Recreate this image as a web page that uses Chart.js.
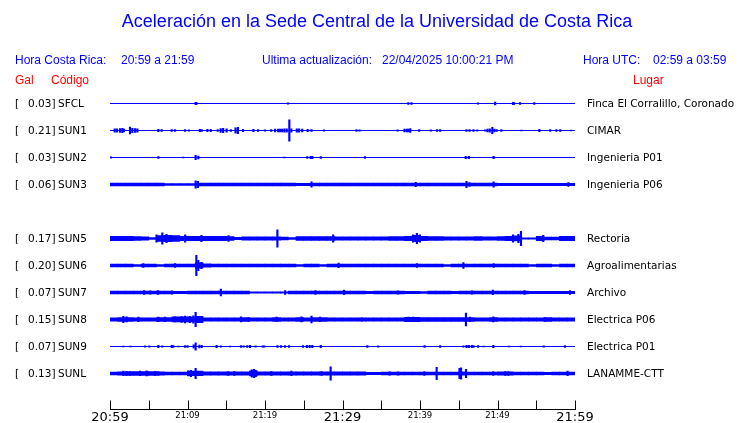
<!DOCTYPE html>
<html>
<head>
<meta charset="utf-8">
<title>Aceleración en la Sede Central de la Universidad de Costa Rica</title>
<script src="https://cdn.jsdelivr.net/npm/chart.js@4.4.1/dist/chart.umd.min.js"></script>
<style>
  body { margin: 0; background: #fff; }
  #wrap { width: 740px; height: 423px; position: relative; }
</style>
</head>
<body>
<div id="wrap"><canvas id="sismo"></canvas></div>
<script>
// TEXTOS DE LA CABECERA
var titulo = 'Aceleración en la Sede Central de la Universidad de Costa Rica'
var horaCR = '20:59 a 21:59'
var actualizacion = '22/04/2025 10:00:21 PM'
var horaUTC = '02:59 a 03:59'

// ESTACIONES (SUN4 no viene en el registro)
var estaciones = ['SFCL', 'SUN1', 'SUN2', 'SUN3', 'SUN5', 'SUN6', 'SUN7', 'SUN8', 'SUN9', 'SUNL']
var lugares = ['Finca El Corralillo, Coronado', 'CIMAR', 'Ingenieria P01', 'Ingenieria P06', 'Rectoria',
  'Agroalimentarias', 'Archivo', 'Electrica P06', 'Electrica P01', 'LANAMME-CTT']
var maxGal = [0.03, 0.21, 0.03, 0.06, 0.17, 0.20, 0.07, 0.15, 0.07, 0.13]

// EJE DE TIEMPO (minutos desde las 20:59)
var minutosTick = [0, 5, 10, 15, 20, 25, 30, 35, 40, 45, 50, 55, 60]
var etiquetasTick = ['20:59', '', '21:09', '', '21:19', '', '21:29', '', '21:39', '', '21:49', '', '21:59']
var ticksGrandes = ['20:59', '21:29', '21:59']

// ruido de fondo: amplitud (gal) por minuto, null = solo la linea
var fondoSUN3 = [0.03, 0.03, 0.03, 0.03, 0.03, 0.03, 0.03, 0.02, 0.02, 0.02, 0.02, 0.03, 0.03, 0.03, 0.03, 0.03, 0.03, 0.03, 0.03, 0.03,
  0.03, 0.03, 0.03, 0.03, 0.024, 0.024, 0.026, 0.026, 0.026, 0.026, 0.026, 0.026, 0.026, 0.03, 0.03, 0.03, 0.03, 0.03, 0.03, 0.026,
  0.026, 0.026, 0.026, 0.026, 0.026, 0.026, 0.026, 0.026, 0.026, 0.026, 0.022, 0.022, 0.022, 0.022, 0.022, 0.022, 0.022, 0.022, 0.022, 0.022]
var fondoSUN5 = [0.045, 0.045, 0.045, 0.04, 0.035, 0.02, 0.055, 0.06, 0.055, 0.045, 0.045, 0.045, 0.045, 0.045, 0.045, 0.04, 0.025, 0.033, 0.033, 0.033,
  0.033, 0.035, 0.03, 0.02, 0.036, 0.036, 0.036, 0.036, 0.04, 0.034, 0.034, 0.034, 0.034, 0.034, 0.034, 0.034, 0.036, 0.036, 0.045, 0.06,
  0.045, 0.04, 0.036, 0.034, 0.034, 0.034, 0.034, 0.036, 0.034, 0.032, 0.036, 0.045, 0.05, 0.015, 0.015, 0.045, 0.03, 0.03, 0.045, 0.045]
var fondoSUN6 = [0.028, 0.028, 0.028, 0.02, 0.028, 0.028, 0.02, 0.028, 0.028, 0.028, 0.028, 0.05, 0.035, 0.028, 0.028, 0.028, 0.028, 0.028, 0.028, 0.028,
  0.028, 0.028, 0.028, 0.028, 0.02, 0.028, 0.028, 0.02, 0.028, 0.028, 0.028, 0.028, 0.028, 0.028, 0.028, 0.028, 0.028, 0.028, 0.028, 0.028,
  0.028, 0.028, 0.028, 0.02, 0.028, 0.028, 0.028, 0.028, 0.028, 0.028, 0.028, 0.028, 0.028, 0.028, 0.02, 0.028, 0.028, 0.02, 0.03, 0.03]
var fondoSUN7 = [0.027, 0.027, 0.027, 0.027, 0.027, 0.03, 0.03, 0.027, 0.024, 0.024, 0.027, 0.027, 0.027, 0.027, 0.027, 0.027, 0.027, 0.027, 0.012, 0.012,
  0.012, 0.012, 0.015, 0.027, 0.027, 0.027, 0.027, 0.027, 0.027, 0.027, 0.027, 0.027, 0.027, 0.022, 0.027, 0.027, 0.027, 0.027, 0.025, 0.025,
  0.02, 0.027, 0.027, 0.027, 0.025, 0.027, 0.027, 0.027, 0.027, 0.027, 0.027, 0.027, 0.027, 0.027, 0.025, 0.025, 0.025, 0.025, 0.025, 0.025]
var fondoSUN8 = [0.035, 0.04, 0.036, 0.035, 0.035, 0.035, 0.04, 0.04, 0.05, 0.05, 0.05, 0.06, 0.035, 0.035, 0.035, 0.035, 0.035, 0.036, 0.035, 0.035,
  0.035, 0.036, 0.035, 0.035, 0.036, 0.035, 0.04, 0.036, 0.035, 0.035, 0.035, 0.035, 0.035, 0.035, 0.035, 0.035, 0.035, 0.035, 0.042, 0.042,
  0.036, 0.036, 0.036, 0.036, 0.036, 0.036, 0.038, 0.035, 0.035, 0.036, 0.035, 0.035, 0.035, 0.035, 0.035, 0.035, 0.036, 0.035, 0.035, 0.035]
var fondoSUNL = [0.03, 0.033, 0.036, 0.036, 0.036, 0.036, 0.033, 0.03, 0.03, 0.03, 0.045, 0.045, 0.033, 0.033, 0.033, 0.033, 0.033, 0.033, 0.05, 0.033,
  0.033, 0.033, 0.033, 0.035, 0.033, 0.033, 0.033, 0.033, 0.035, 0.033, 0.033, 0.033, 0.033, 0.022, 0.022, 0.03, 0.03, 0.03, 0.03, 0.03,
  0.03, 0.03, 0.03, 0.03, 0.03, 0.035, 0.03, 0.03, 0.03, 0.03, 0.035, 0.035, 0.03, 0.03, 0.03, 0.03, 0.022, 0.03, 0.03, 0.03]
var fondos = [null, null, null, fondoSUN3, fondoSUN5, fondoSUN6, fondoSUN7, fondoSUN8, null, fondoSUNL]

// picos: [minuto, amplitud en gal]
var picosSFCL = [[11.05, 0.025], [11.15, 0.025], [22.97, 0.015], [38.5, 0.02], [38.9, 0.02], [47.5, 0.015], [49.7, 0.03],
  [52.0, 0.025], [52.1, 0.025], [52.9, 0.02], [54.75, 0.02]]
var picosSUN1 = [[0.6, 0.035], [0.9, 0.035], [1.3, 0.04], [1.6, 0.045], [1.8, 0.03], [2.58, 0.065], [2.88, 0.045], [3.23, 0.04],
  [3.53, 0.035], [6.24, 0.025], [6.67, 0.02], [7.96, 0.02], [8.39, 0.02], [9.68, 0.02], [10.19, 0.015], [11.6, 0.025], [11.83, 0.02],
  [12.56, 0.025], [13.0, 0.025], [13.9, 0.02], [14.28, 0.04], [14.6, 0.045], [15.05, 0.035], [15.6, 0.02], [16.2, 0.05], [16.5, 0.06],
  [17.16, 0.025], [18.5, 0.025], [19.1, 0.02], [20.0, 0.015], [20.8, 0.02], [21.3, 0.03], [21.7, 0.03], [21.95, 0.03], [22.2, 0.03],
  [22.5, 0.035], [22.8, 0.035], [23.14, 0.21], [23.4, 0.035], [24.1, 0.035], [24.4, 0.035], [24.8, 0.03], [25.5, 0.025], [26.0, 0.02],
  [27.6, 0.015], [31.8, 0.02], [32.2, 0.015], [37.1, 0.015], [38.0, 0.03], [38.3, 0.03], [38.5, 0.03], [38.75, 0.04], [39.9, 0.02],
  [41.4, 0.015], [42.2, 0.02], [42.6, 0.02], [46.0, 0.02], [46.4, 0.02], [46.9, 0.02], [47.4, 0.015], [48.4, 0.015], [48.7, 0.03],
  [49.0, 0.035], [49.33, 0.06], [49.6, 0.03], [49.9, 0.02], [50.5, 0.02], [53.1, 0.01], [55.4, 0.025], [56.8, 0.02], [57.6, 0.02],
  [58.1, 0.02], [59.5, 0.01]]
var picosSUN2 = [[0.13, 0.015], [6.24, 0.02], [9.46, 0.01], [11.05, 0.045], [11.4, 0.03], [22.5, 0.01], [25.46, 0.02], [25.9, 0.025],
  [26.1, 0.025], [27.2, 0.02], [32.9, 0.02], [45.9, 0.025], [46.3, 0.025], [49.5, 0.025]]
var picosSUN3 = [[11.05, 0.07], [11.35, 0.06], [26.0, 0.05], [39.45, 0.045], [46.0, 0.06], [46.4, 0.04], [49.5, 0.05], [59.15, 0.04]]
var picosSUN5 = [[6.0, 0.07], [6.75, 0.11], [7.3, 0.08], [9.7, 0.07], [11.8, 0.06], [15.3, 0.055], [21.6, 0.17], [28.8, 0.07],
  [39.1, 0.07], [39.6, 0.1], [40.0, 0.07], [52.0, 0.07], [52.7, 0.08], [53.03, 0.14], [55.9, 0.06]]
var picosSUN6 = [[4.3, 0.04], [8.4, 0.04], [11.14, 0.2], [11.4, 0.1], [11.8, 0.06], [29.5, 0.045], [39.6, 0.04], [45.6, 0.055], [49.5, 0.04]]
var picosSUN7 = [[4.4, 0.04], [5.2, 0.035], [6.2, 0.04], [8.0, 0.035], [14.3, 0.065], [22.6, 0.04], [26.5, 0.04], [30.2, 0.045],
  [37.2, 0.035], [46.7, 0.035], [49.4, 0.045], [53.5, 0.04], [59.35, 0.04]]
var picosSUN8 = [[1.72, 0.06], [2.15, 0.05], [3.66, 0.045], [6.24, 0.045], [7.1, 0.045], [8.4, 0.05], [9.25, 0.055], [9.68, 0.065],
  [10.3, 0.06], [10.75, 0.07], [11.05, 0.14], [11.6, 0.05], [16.9, 0.05], [17.85, 0.04], [21.5, 0.045], [24.7, 0.05], [26.0, 0.065],
  [27.1, 0.045], [32.5, 0.035], [38.5, 0.045], [39.1, 0.045], [45.93, 0.125], [46.45, 0.045], [49.46, 0.05], [56.1, 0.04]]
var picosSUN9 = [[1.72, 0.01], [2.67, 0.01], [4.52, 0.015], [5.08, 0.015], [6.24, 0.025], [6.75, 0.015], [7.96, 0.025], [8.17, 0.02],
  [8.82, 0.01], [9.68, 0.02], [10.0, 0.02], [10.8, 0.035], [11.05, 0.07], [11.53, 0.03], [11.83, 0.025], [13.76, 0.025], [14.3, 0.015],
  [15.5, 0.01], [16.9, 0.02], [17.25, 0.015], [17.7, 0.02], [18.06, 0.025], [18.8, 0.015], [19.7, 0.015], [19.9, 0.015], [21.6, 0.02],
  [22.06, 0.02], [22.58, 0.02], [23.1, 0.02], [24.9, 0.02], [25.4, 0.025], [25.76, 0.025], [26.1, 0.025], [27.2, 0.025], [33.2, 0.02],
  [34.6, 0.015], [40.6, 0.02], [42.6, 0.02], [45.6, 0.015], [46.0, 0.025], [46.3, 0.025], [46.7, 0.025], [46.9, 0.02], [47.5, 0.02],
  [48.2, 0.01], [49.46, 0.025], [51.5, 0.01], [53.0, 0.01], [55.96, 0.015], [58.7, 0.02]]
var picosSUNL = [[1.72, 0.045], [2.15, 0.04], [2.58, 0.04], [3.87, 0.045], [4.73, 0.05], [5.8, 0.04], [6.24, 0.04], [10.1, 0.05],
  [10.45, 0.06], [11.05, 0.1], [15.27, 0.04], [16.04, 0.04], [18.3, 0.07], [18.6, 0.08], [18.8, 0.06], [20.8, 0.04], [23.4, 0.045],
  [27.3, 0.04], [28.47, 0.13], [36.1, 0.035], [37.2, 0.035], [40.56, 0.04], [42.15, 0.12], [45.1, 0.1], [45.3, 0.11], [45.94, 0.08],
  [49.46, 0.04], [51.0, 0.04], [51.4, 0.04], [59.05, 0.045]]
var picos = [picosSFCL, picosSUN1, picosSUN2, picosSUN3, picosSUN5, picosSUN6, picosSUN7, picosSUN8, picosSUN9, picosSUNL]

var azul = '#0000ff'
var GAL_FILA = 0.53 // gal entre dos trazas (27 px)

function fila(i) {
  return i < 4 ? i : i + 1 // hueco donde iria SUN4
}

var datasets = []
estaciones.forEach(function (est, i) {
  var c = fila(i) * GAL_FILA
  datasets.push({
    type: 'line', data: [{x: 0, y: c}, {x: 60, y: c}],
    borderColor: azul, borderWidth: 1, pointRadius: 0
  })
  if (fondos[i]) {
    var barras = []
    fondos[i].forEach(function (a, m) {
      if (a > 0) barras.push({x: m + 0.5, y: [c - a, c + a]})
    })
    datasets.push({type: 'bar', data: barras, backgroundColor: azul, barThickness: 7.8, grouped: false, borderWidth: 0})
  }
  datasets.push({
    type: 'bar',
    data: picos[i].map(function (p) { return {x: p[0], y: [c - p[1], c + p[1]]} }),
    backgroundColor: azul, barThickness: 1.5, grouped: false, borderWidth: 0
  })
})

// TEXTOS Y EJE DE TIEMPO
var dibujo = {
  id: 'dibujo',
  afterDraw: function (chart) {
    var ctx = chart.ctx
    var sx = chart.scales.x, sy = chart.scales.y
    var area = chart.chartArea
    ctx.save()
    ctx.textBaseline = 'middle'

    ctx.fillStyle = azul
    ctx.textAlign = 'center'
    ctx.font = '18px "Liberation Sans", Arial, sans-serif'
    ctx.fillText(titulo, 377, 22)

    ctx.textAlign = 'left'
    ctx.font = '12px "Liberation Sans", Arial, sans-serif'
    ctx.fillText('Hora Costa Rica:', 15, 61)
    ctx.fillText(horaCR, 121, 61)
    ctx.fillText('Ultima actualización:', 262, 61)
    ctx.fillText(actualizacion, 382, 61)
    ctx.fillText('Hora UTC:', 583, 61)
    ctx.fillText(horaUTC, 653, 61)

    ctx.fillStyle = '#ff0000'
    ctx.fillText('Gal', 15, 81)
    ctx.fillText('Código', 51, 81)
    ctx.fillText('Lugar', 633, 81)

    // etiquetas de cada traza
    ctx.fillStyle = '#000'
    ctx.font = '10.5px "DejaVu Sans", sans-serif'
    estaciones.forEach(function (est, i) {
      var y = sy.getPixelForValue(fila(i) * GAL_FILA) + 1
      ctx.textAlign = 'left'
      ctx.fillText('[', 15, y)
      ctx.textAlign = 'right'
      ctx.fillText(maxGal[i].toFixed(2) + ']', 55.5, y)
      ctx.textAlign = 'left'
      ctx.fillText(est, 58, y)
      ctx.fillText(lugares[i], 587, y)
    })

    // eje
    var yEje = Math.round(area.bottom) + 0.5
    ctx.strokeStyle = '#000'
    ctx.lineWidth = 1
    ctx.beginPath()
    ctx.moveTo(sx.getPixelForValue(0), yEje)
    ctx.lineTo(sx.getPixelForValue(60) + 1, yEje)
    minutosTick.forEach(function (m) {
      var x = Math.round(sx.getPixelForValue(m)) + 0.5
      ctx.moveTo(x, yEje)
      ctx.lineTo(x, yEje - 9)
    })
    ctx.stroke()
    ctx.textAlign = 'center'
    minutosTick.forEach(function (m, k) {
      var txt = etiquetasTick[k]
      if (!txt) return
      var grande = ticksGrandes.indexOf(txt) >= 0
      ctx.font = (grande ? '13px' : '8.5px') + ' "DejaVu Sans", sans-serif'
      ctx.fillText(txt, sx.getPixelForValue(m), grande ? yEje + 8 : yEje + 6)
    })
    ctx.restore()
  }
}

var ctx = document.getElementById('sismo').getContext('2d')
var chart = new Chart(ctx, {
  type: 'bar',
  data: { datasets: datasets },
  options: {
    responsive: true,
    maintainAspectRatio: false,
    animation: false,
    events: [],
    layout: { padding: { left: 110, right: 165, top: 76.5, bottom: 14 } },
    plugins: { legend: { display: false }, tooltip: { enabled: false } },
    scales: {
      x: { type: 'linear', min: 0, max: 60, offset: false, display: false },
      y: { type: 'linear', min: -GAL_FILA, max: 11.315 * GAL_FILA, reverse: true, display: false }
    }
  },
  plugins: [dibujo]
})
</script>
</body>
</html>
